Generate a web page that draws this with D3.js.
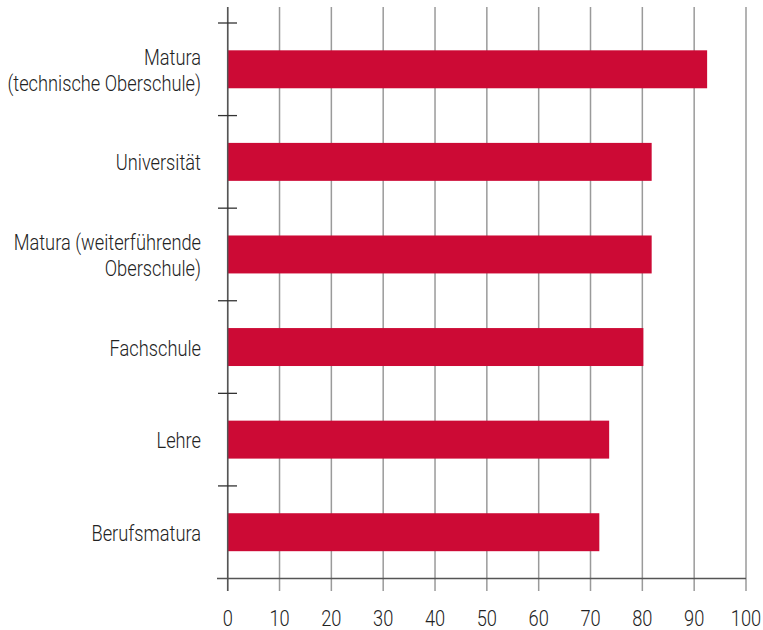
<!DOCTYPE html>
<html><head><meta charset="utf-8">
<script src="https://cdn.jsdelivr.net/npm/d3@7"></script>
<style>body{margin:0;background:#fff;} text{font-family:"Roboto","Liberation Sans",sans-serif;font-weight:300;fill:#222;}</style>
</head><body><svg id="c" width="763" height="630"></svg>
<script>
const categories = [["Matura","(technische Oberschule)"],["Universität"],["Matura (weiterführende","Oberschule)"],["Fachschule"],["Lehre"],["Berufsmatura"]];
const values = [92.5, 81.8, 81.8, 80.2, 73.6, 71.7];
const xTicks = [0,10,20,30,40,50,60,70,80,90,100];

const svg = d3.select("#c");
const x0 = 227.7, x1 = 746, yTop = 23, yBot = 578.5;
const x = d3.scaleLinear().domain([0,100]).range([x0,x1]);
const y = d3.scaleBand().domain(d3.range(categories.length)).range([yTop,yBot]).paddingInner(0.59).paddingOuter(0.295);
const SX = 0.83;

// grid
svg.append("g").selectAll("line").data(xTicks).join("line")
  .attr("x1",d=>x(d)).attr("x2",d=>x(d)).attr("y1",7).attr("y2",591)
  .attr("stroke","#9a9a9a").attr("stroke-width",1.5);

// bars
svg.append("g").selectAll("rect").data(values).join("rect")
  .attr("x",x(0)).attr("y",(d,i)=>y(i)).attr("width",d=>x(d)-x(0)).attr("height",y.bandwidth())
  .attr("fill","#cc0a35");

// y axis line
svg.append("line").attr("x1",x0).attr("x2",x0).attr("y1",7).attr("y2",591).attr("stroke","#555").attr("stroke-width",1.5);
// y ticks at band boundaries
const step = (yBot-yTop)/categories.length;
const bounds = d3.range(categories.length).map(i=>yTop+i*step);
svg.append("g").selectAll("line").data(bounds).join("line")
  .attr("x1",218).attr("x2",237).attr("y1",d=>d).attr("y2",d=>d).attr("stroke","#333").attr("stroke-width",1.3);
// x axis line
svg.append("line").attr("x1",217).attr("x2",x1).attr("y1",yBot).attr("y2",yBot).attr("stroke","#555").attr("stroke-width",1.5);

// x tick labels
svg.append("g").selectAll("text").data(xTicks).join("text")
  .attr("text-anchor","middle").attr("font-size",22)
  .attr("transform",d=>`translate(${x(d)},626) scale(${SX},1)`).text(d=>d);

// category labels
const lab = svg.append("g").selectAll("text").data(categories).join("text")
  .attr("text-anchor","end").attr("font-size",22)
  .attr("transform",(d,i)=>`translate(201,${y(i)+y.bandwidth()/2}) scale(${SX},1)`);
lab.each(function(d){
  const t = d3.select(this);
  const lh = 26;
  d.forEach((s,k)=>{
    t.append("tspan").attr("x",0).attr("y",(k-(d.length-1)/2)*lh+8.5).text(s);
  });
});
</script></body></html>
